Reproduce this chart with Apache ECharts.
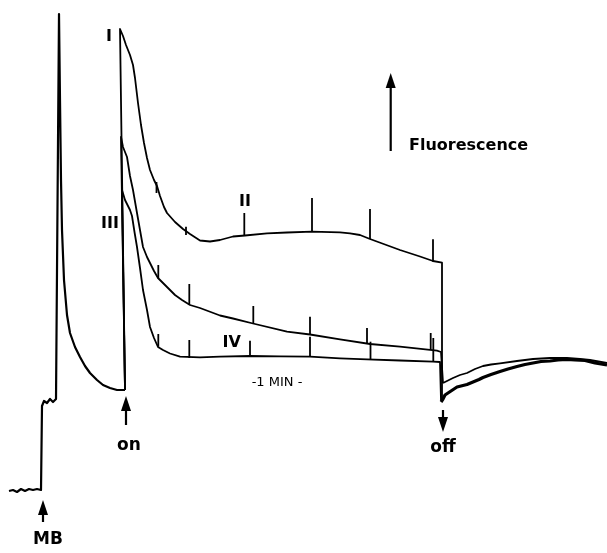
<!DOCTYPE html>
<html>
<head>
<meta charset="utf-8">
<script src="https://cdn.jsdelivr.net/npm/echarts@6/dist/echarts.min.js"></script>
<style>
html, body { margin: 0; padding: 0; background: #fff; }
#chart { width: 607px; height: 553px; }
</style>
</head>
<body>
<div id="chart"></div>
<script>
// x: time in s (0 = light "on"), y: fluorescence, arbitrary units above dark level
const traceDark = [
  [-116, 0], [-112, 1], [-108, -1], [-104, 2], [-100, 0], [-96, 2], [-92, 1], [-88, 2], [-84, 1],
  [-83, 85], [-81, 90], [-78, 88], [-75, 92], [-72, 89], [-69, 92], [-67, 90],
  [-66, 477], [-65, 391], [-64, 311], [-63, 261], [-61, 211], [-58, 176], [-55, 158],
  [-50, 144], [-45, 134], [-40, 125], [-35, 118], [-28, 111], [-22, 106], [-15, 103], [-8, 101], [0, 101]
];
const traceI = [
  [0, 101], [-5, 462], [-2, 455], [1, 446], [5, 436], [8, 426], [10, 413], [13, 388], [16, 366],
  [19, 348], [22, 333], [25, 321], [29, 311], [32, 305], [35, 295], [39, 284], [42, 278], [50, 269],
  [58, 262], [65, 257], [75, 250.5], [85, 249.5], [95, 251], [108, 254.5], [120, 255.5], [142, 257.7],
  [162, 258.5], [187, 259.3], [215, 258.7], [225, 257.7], [235, 256], [245, 252], [260, 246.5],
  [275, 241], [295, 234.5], [308, 230], [317, 228.3], [317, 89]
];
const traceIII = [
  [0, 101], [-4, 354], [-2, 344], [2, 334], [5, 315], [8, 301], [12, 278], [15, 261], [18, 244],
  [22, 234], [25, 228], [29, 220], [33, 213], [42, 204], [50, 196], [57, 191], [65, 186], [75, 183],
  [95, 175.5], [108, 172.5], [128, 167.5], [162, 159.3], [185, 156.5], [215, 151.7], [245, 147],
  [275, 144.3], [312, 140.3], [316, 139], [318, 108]
];
const traceIV = [
  [0, 101], [-3, 301], [0, 291], [2, 287], [5, 281], [7, 275], [9.5, 259], [12, 244], [15, 223],
  [18, 201], [22, 181], [25, 164], [29, 153], [33, 144], [38, 141], [45, 137.5], [55, 134.3],
  [75, 133.7], [95, 134.3], [125, 135], [155, 134.7], [185, 134.3], [215, 132.7], [242, 131.7],
  [275, 130.5], [308, 129.3], [315, 129], [316, 91]
];
// recovery after light "off"
const recoveryUpper = [
  [318, 108], [322, 110], [328, 113], [335, 116], [342, 118], [350, 122], [358, 125], [366, 126.5],
  [375, 127.7], [392, 130], [408, 132], [425, 133], [442, 133], [455, 132], [465, 131], [482, 128]
];
const recoveryLower = [
  [316, 89], [318, 92], [320, 96], [322, 98], [326, 100], [329, 102], [332, 104], [336, 105],
  [342, 106.5], [348, 109], [354, 111.5], [358, 113.5], [366, 116.5], [375, 119.5], [383, 122],
  [392, 124.5], [400, 126.5], [408, 128], [416, 129.5], [425, 130], [433, 131], [442, 131.5],
  [450, 131], [460, 130.5], [470, 128], [482, 126]
];
// 30 s / 1 min time marks: [t, low, high]
const ticksI = [[31.5, 298, 309], [61, 256, 264.3], [119.3, 255, 278], [187, 259.3, 293], [245, 252, 282], [308, 229.3, 251.7]];
const ticksIII = [[33.3, 212.7, 226], [64.3, 186, 207], [128.3, 167.7, 185], [185, 157, 174.3], [242, 147, 163], [305.7, 141, 158]];
const ticksIV = [[33.3, 144.3, 157], [64.3, 133, 151], [125, 135, 150.3], [185, 134.3, 154.3], [245.5, 131.7, 149.3], [308.3, 130, 153]];
// arrows: [t, tail, head]
const arrows = [[265.7, 340, 418], [-82, -31, -9], [1, 66, 95], [318, 81, 59]];
const traceLabels = [[-16, 454, 'I'], [-15, 267.5, 'III'], [120, 289, 'II'], [106.7, 147.7, 'IV']];
const eventLabels = [[4, 45, 'on'], [318, 43, 'off'], [-77, -49, 'MB']];
const axisLabels = [[284, 345, 'Fluorescence']];
const scaleLabels = [[152, 108, '-1 MIN -']];

const FONT = '"DejaVu Sans", "Liberation Sans", sans-serif';

function lineSeries(data, width) {
  return {
    type: 'line', data: data, showSymbol: false, smooth: false, silent: true,
    lineStyle: { color: '#000', width: width, join: 'round' }
  };
}

function tickSeries(data) {
  return {
    type: 'custom', data: data, silent: true, encode: { x: 0, y: [1, 2] },
    renderItem: function (params, api) {
      const a = api.coord([api.value(0), api.value(1)]);
      const b = api.coord([api.value(0), api.value(2)]);
      return { type: 'line', shape: { x1: a[0], y1: a[1], x2: b[0], y2: b[1] }, style: { stroke: '#000', lineWidth: 1.8 } };
    }
  };
}

function textSeries(data, size, weight, align) {
  return {
    type: 'custom', data: data, silent: true, encode: { x: 0, y: 1 },
    renderItem: function (params, api) {
      const p = api.coord([api.value(0), api.value(1)]);
      return {
        type: 'text', x: p[0], y: p[1],
        style: {
          text: data[params.dataIndex][2], fill: '#000', font: weight + ' ' + size + 'px ' + FONT,
          align: align || 'center', verticalAlign: 'middle'
        }
      };
    }
  };
}

const chart = echarts.init(document.getElementById('chart'));
chart.setOption({
  animation: false,
  backgroundColor: '#fff',
  grid: { left: 0, right: 0, top: 0, bottom: 0 },
  xAxis: { type: 'value', min: -125, max: 482, show: false },
  yAxis: { type: 'value', min: -62, max: 491, show: false },
  series: [
    lineSeries(traceDark, 2.2),
    lineSeries(traceI, 1.8),
    lineSeries(traceIII, 1.8),
    lineSeries(traceIV, 1.8),
    lineSeries(recoveryUpper, 1.8),
    lineSeries(recoveryLower, 3.2),
    tickSeries(ticksI),
    tickSeries(ticksIII),
    tickSeries(ticksIV),
    {
      type: 'custom', data: arrows, silent: true, encode: { x: 0, y: [1, 2] },
      renderItem: function (params, api) {
        const a = api.coord([api.value(0), api.value(1)]);
        const b = api.coord([api.value(0), api.value(2)]);
        const dir = b[1] < a[1] ? 1 : -1;
        return {
          type: 'group', children: [
            { type: 'line', shape: { x1: a[0], y1: a[1], x2: b[0], y2: b[1] + dir * 10 }, style: { stroke: '#000', lineWidth: 2.2 } },
            { type: 'polygon', shape: { points: [[b[0], b[1]], [b[0] - 5, b[1] + dir * 15], [b[0] + 5, b[1] + dir * 15]] }, style: { fill: '#000' } }
          ]
        };
      }
    },
    textSeries(traceLabels, 16, 'bold'),
    textSeries(eventLabels, 17, 'bold'),
    textSeries(axisLabels, 16, 'bold', 'left'),
    textSeries(scaleLabels, 13, 'normal')
  ]
});
</script>
</body>
</html>
